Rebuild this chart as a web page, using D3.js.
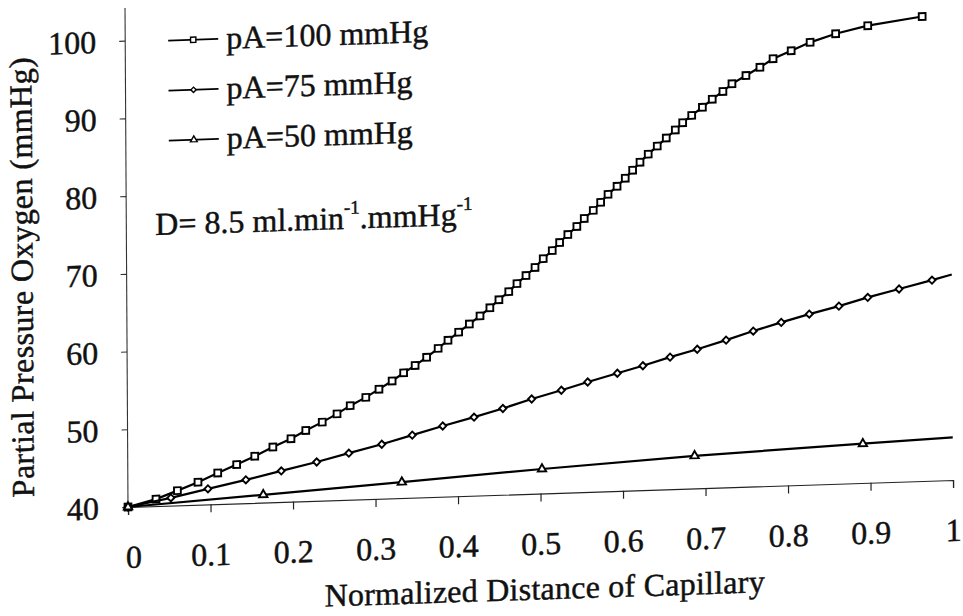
<!DOCTYPE html>
<html>
<head>
<meta charset="utf-8">
<script src="https://cdn.jsdelivr.net/npm/d3@7"></script>
<style>
  html, body { margin: 0; padding: 0; background: #fff; }
  svg { display: block; }
  svg text { fill: #111; stroke: #111; stroke-width: 0.45px; }
</style>
</head>
<body>
<svg id="chart" width="963" height="616"></svg>
<script>
// ---- data ----
const xTickValues = [0, 0.1, 0.2, 0.3, 0.4, 0.5, 0.6, 0.7, 0.8, 0.9, 1];
const xTickLabels = ["0", "0.1", "0.2", "0.3", "0.4", "0.5", "0.6", "0.7", "0.8", "0.9", "1"];
const yTickValues = [40, 50, 60, 70, 80, 90, 100];
const yTickLabels = ["40", "50", "60", "70", "80", "90", "100"];

const seriesNames = ["pA=100 mmHg", "pA=75 mmHg", "pA=50 mmHg"];

// pA = 100 mmHg : [distance, pO2]
const pA100 = [
  [0, 40], [0.034, 40.9], [0.060, 41.9], [0.085, 42.9], [0.109, 44.0], [0.132, 45.0],
  [0.154, 46.0], [0.176, 47.1], [0.198, 48.1], [0.216, 49.1], [0.236, 50.1], [0.254, 51.1],
  [0.270, 52.1], [0.289, 53.1], [0.305, 54.1], [0.321, 55.1], [0.335, 56.1], [0.349, 57.0],
  [0.363, 58.0], [0.377, 59.1], [0.389, 60.1], [0.402, 61.1], [0.415, 62.1], [0.428, 63.1],
  [0.440, 64.1], [0.451, 65.1], [0.463, 66.1], [0.473, 67.1], [0.484, 68.1], [0.495, 69.1],
  [0.505, 70.2], [0.516, 71.2], [0.525, 72.2], [0.535, 73.2], [0.546, 74.2], [0.555, 75.2],
  [0.566, 76.2], [0.575, 77.2], [0.584, 78.2], [0.595, 79.2], [0.605, 80.2], [0.614, 81.2],
  [0.623, 82.2], [0.633, 83.2], [0.644, 84.2], [0.655, 85.2], [0.666, 86.2], [0.675, 87.1],
  [0.686, 88.0], [0.699, 89.0], [0.711, 90.0], [0.724, 90.95], [0.735, 91.9], [0.752, 92.9],
  [0.769, 93.9], [0.785, 94.95], [0.807, 95.9], [0.830, 96.9], [0.861, 97.9], [0.900, 98.8],
  [0.966, 99.75]
];
// pA = 75 mmHg
const pA75 = [
  [0, 40], [0.052, 41.0], [0.097, 42.0], [0.143, 43.0], [0.186, 44.0], [0.229, 45.0],
  [0.268, 46.0], [0.308, 47.0], [0.345, 48.05], [0.382, 49.1], [0.420, 50.1], [0.455, 51.1],
  [0.490, 52.2], [0.526, 53.2], [0.558, 54.15], [0.594, 55.15], [0.625, 56.0], [0.658, 57.0],
  [0.691, 57.9], [0.726, 58.95], [0.759, 60.0], [0.793, 61.0], [0.827, 61.95], [0.863, 62.85],
  [0.898, 63.85], [0.936, 64.8], [0.976, 65.8], [1.0, 66.45]
];
// pA = 50 mmHg
const pA50 = [
  [0, 40], [0.164, 41.0], [0.332, 42.05], [0.502, 43.15], [0.687, 44.2], [0.891, 45.05], [1.0, 45.5]
];

const annotationMain = "D= 8.5 ml.min";
const annotationMid = ".mmHg";
const annotationSup = "-1";
const xTitle = "Normalized Distance of Capillary";
const yTitle = "Partial Pressure Oxygen (mmHg)";

// ---- drawing ----
const FONT_FAMILY = '"Liberation Serif", "Times New Roman", Times, serif';
const FONT = 32;
const svg = d3.select("#chart");
// the scanned original is slightly sheared; reproduce it around the origin (128,507)
const root = svg.append("g")
  .attr("transform", "matrix(1,-0.0327,0.006,1,-3.04,4.19)");

const x = d3.scaleLinear().domain([0, 1]).range([128, 953]);
const y = d3.scaleLinear().domain([40, 104.2]).range([507, 8]);

function styleText(sel, size) {
  return sel.attr("font-family", FONT_FAMILY)
    .style("font-family", FONT_FAMILY)
    .attr("font-size", size)
    .style("font-size", size + "px");
}

// x axis
const xAxis = root.append("g")
  .attr("transform", `translate(0,${y(40)})`)
  .call(d3.axisBottom(x).tickValues(xTickValues).tickSize(8)
    .tickFormat((d, i) => xTickLabels[i]));
xAxis.attr("font-family", FONT_FAMILY).attr("font-size", FONT);
xAxis.select(".domain").attr("stroke", "#222").attr("stroke-width", 1.2);
xAxis.selectAll(".tick line").attr("stroke", "#222").attr("stroke-width", 1.2);
styleText(xAxis.selectAll(".tick text"), FONT)
  .attr("y", 61).attr("dy", null).attr("fill", "#111");
xAxis.selectAll(".tick text").filter((d, i) => i === 0).attr("x", 5);

// y axis
const yAxis = root.append("g")
  .attr("transform", `translate(${x(0)},0)`)
  .call(d3.axisLeft(y).tickValues(yTickValues).tickSize(6)
    .tickFormat((d, i) => yTickLabels[i]));
yAxis.attr("font-family", FONT_FAMILY).attr("font-size", FONT);
yAxis.select(".domain").attr("stroke", "#333").attr("stroke-width", 1.1)
  .attr("d", `M0,${y(104.2)}V${y(40)}`);
yAxis.selectAll(".tick line").attr("stroke", "#333").attr("stroke-width", 1.1);
styleText(yAxis.selectAll(".tick text"), FONT)
  .attr("x", -29).attr("dy", "0.34em").attr("fill", "#111");

// axis titles
styleText(root.append("text"), FONT)
  .attr("x", 544).attr("y", 613)
  .attr("text-anchor", "middle")
  .attr("textLength", 440).attr("lengthAdjust", "spacing")
  .text(xTitle);

styleText(root.append("text"), FONT)
  .attr("transform", "translate(34,274) rotate(-90)")
  .attr("text-anchor", "middle")
  .attr("textLength", 440).attr("lengthAdjust", "spacing")
  .text(yTitle);

// series
const line = d3.line().x(d => x(d[0])).y(d => y(d[1]));
const series = [
  { name: seriesNames[0], data: pA100, symbol: d3.symbolSquare, size: 46, rot: 0, lsize: 28 },
  { name: seriesNames[1], data: pA75, symbol: d3.symbolSquare, size: 26, rot: 45, lsize: 14 },
  { name: seriesNames[2], data: pA50, symbol: d3.symbolTriangle, size: 30, rot: 0, lsize: 20 }
];

series.forEach(s => {
  root.append("path")
    .attr("d", line(s.data))
    .attr("fill", "none")
    .attr("stroke", "#000")
    .attr("stroke-width", 2.2);
  root.append("g").selectAll("path")
    .data(s.data.filter(d => d[0] < 1))
    .join("path")
    .attr("d", d3.symbol().type(s.symbol).size(s.size))
    .attr("transform", d => `translate(${x(d[0])},${y(d[1])}) rotate(${s.rot})`)
    .attr("fill", "#fff")
    .attr("stroke", "#000")
    .attr("stroke-width", 1.9);
});

// legend
const legendBaselines = [52, 102, 152];
series.forEach((s, i) => {
  const by = legendBaselines[i];
  const ly = by - 10;
  root.append("line")
    .attr("x1", 171).attr("x2", 221).attr("y1", ly).attr("y2", ly)
    .attr("stroke", "#000").attr("stroke-width", 1.8);
  root.append("path")
    .attr("d", d3.symbol().type(s.symbol).size(s.lsize))
    .attr("transform", `translate(196,${ly}) rotate(${s.rot})`)
    .attr("fill", "#fff").attr("stroke", "#000").attr("stroke-width", 1.4);
  styleText(root.append("text"), FONT)
    .attr("x", 229).attr("y", by)
    .text(s.name);
});

// annotation
const ann = styleText(root.append("text"), FONT)
  .attr("x", 157).attr("y", 236);
ann.append("tspan").text(annotationMain);
ann.append("tspan").attr("dy", -15).style("font-size", "19px").text(annotationSup);
ann.append("tspan").attr("dy", 15).style("font-size", FONT + "px").text(annotationMid);
ann.append("tspan").attr("dy", -15).style("font-size", "19px").text(annotationSup);
</script>
</body>
</html>
